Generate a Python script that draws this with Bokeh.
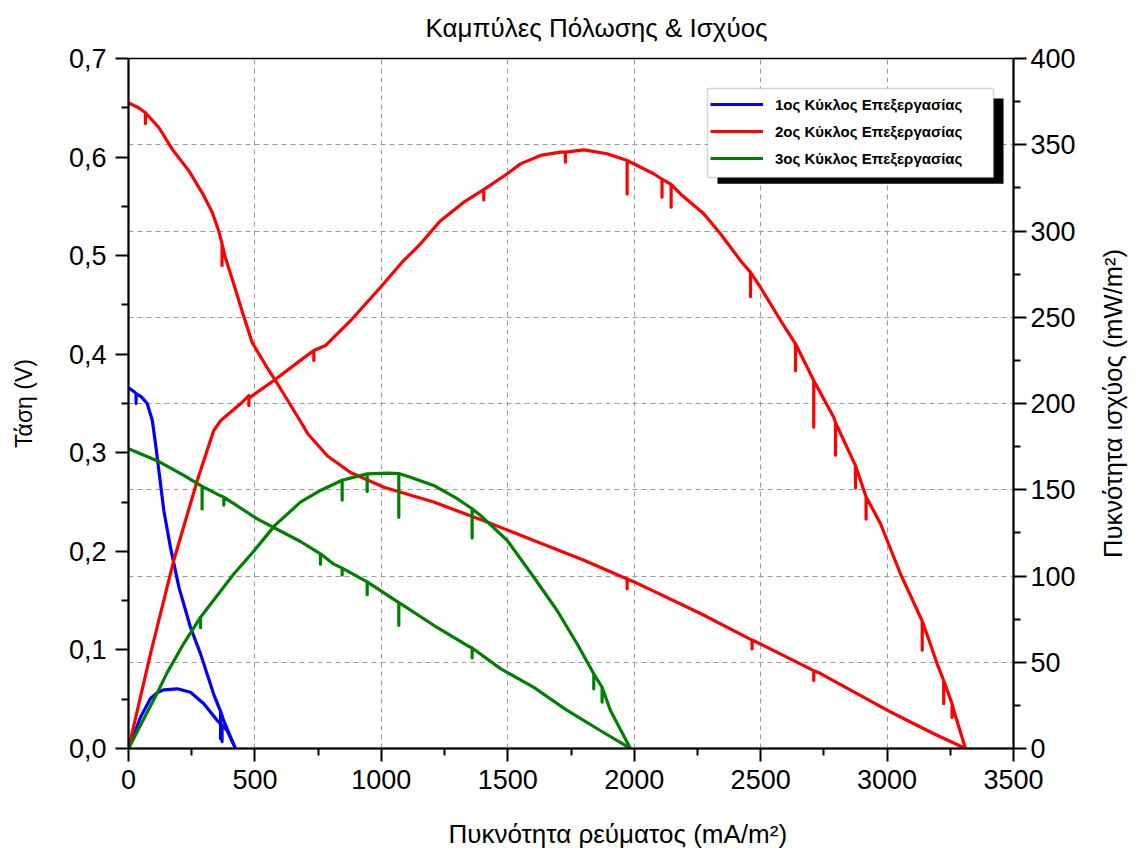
import math
from bokeh.plotting import figure
from bokeh.models import (Range1d, LinearAxis, Grid, Legend, LegendItem, BoxAnnotation,
                          CustomJSTickFormatter, FixedTicker, Label)
from bokeh.embed import file_html
from bokeh.resources import INLINE

# ---- polarization curves: current density (mA/m^2) vs cell voltage (V) ----
j_blue_v = [0, 22, 30, 30, 30, 50, 74, 94, 107, 120, 140, 166, 199, 245, 285, 337, 364, 364, 364, 377, 423]
v_blue = [0.366, 0.362, 0.360, 0.350, 0.360, 0.357, 0.350, 0.333, 0.309, 0.282, 0.241, 0.204, 0.164,
          0.123, 0.096, 0.055, 0.038, 0.010, 0.038, 0.028, 0.0]

j_red_v = [0, 40, 67, 67, 67, 120, 173, 239, 291, 331, 357, 370, 370, 370, 384, 410, 450, 489, 542, 594,
           674, 710, 786, 878, 1010, 1207, 1405, 1603, 1801, 1972, 1972, 1972, 2000, 2262, 2466, 2466, 2466,
           2499, 2710, 2710, 2710, 2737, 3000, 3053, 3185, 3310]
v_red = [0.655, 0.650, 0.645, 0.634, 0.645, 0.630, 0.608, 0.586, 0.564, 0.544, 0.525, 0.512, 0.490, 0.512,
         0.497, 0.4765, 0.443, 0.412, 0.389, 0.368, 0.3345, 0.319, 0.297, 0.280, 0.265, 0.250, 0.231, 0.211,
         0.191, 0.172, 0.162, 0.172, 0.169, 0.137, 0.110, 0.101, 0.110, 0.106, 0.079, 0.069, 0.079, 0.076,
         0.039, 0.032, 0.015, 0.0]

j_green_v = [0, 113, 219, 291, 291, 291, 351, 377, 377, 377, 509, 680, 759, 759, 759, 812, 845, 845, 845,
             944, 944, 944, 1069, 1069, 1069, 1076, 1207, 1339, 1359, 1359, 1359, 1471, 1603, 1735, 1867, 1985]
v_green = [0.304, 0.292, 0.277, 0.266, 0.243, 0.266, 0.258, 0.255, 0.247, 0.255, 0.233, 0.210, 0.1975, 0.187,
           0.1975, 0.187, 0.183, 0.176, 0.183, 0.169, 0.156, 0.169, 0.148, 0.125, 0.148, 0.147, 0.125, 0.1045,
           0.102, 0.092, 0.102, 0.081, 0.062, 0.0386, 0.018, 0.0]

# ---- power density curves: current density (mA/m^2) vs power density (mW/m^2) ----
j_blue_p = [0, 47, 87, 115, 140, 193, 245, 298, 351, 370, 370, 370, 390, 423]
p_blue = [0, 18.0, 29.0, 32.5, 34.0, 34.6, 32.6, 25.9, 16.2, 13.5, 4.0, 13.5, 10.4, 0]

j_red_p = [0, 87, 179, 272, 337, 364, 443, 476, 476, 476, 482, 575, 680, 733, 733, 733, 779, 885, 1003, 1082,
           1155, 1234, 1326, 1405, 1405, 1405, 1498, 1550, 1629, 1708, 1728, 1728, 1728, 1801, 1893,
           1972, 1972, 1972, 2077, 2110, 2110, 2110, 2146, 2146, 2146, 2183, 2275, 2341, 2420,
           2460, 2460, 2460, 2499, 2579, 2638, 2638, 2638, 2710, 2710, 2710, 2789, 2796, 2796, 2796,
           2875, 2875, 2875, 2917, 2917, 2917, 2974, 3053, 3132, 3139, 3139, 3139, 3198,
           3224, 3224, 3224, 3257, 3257, 3257, 3264, 3310]
p_red = [0, 54.9, 109, 155.4, 184.3, 190, 199.8, 204.6, 198.8, 204.6, 203.7, 213.3, 225, 230.7, 225, 230.7,
         233.6, 249.1, 268.4, 281.9, 292.6, 306, 316.7, 324, 318, 324, 333.2, 338.9, 343.8, 345.7,
         345.7, 339.9, 345.7, 347, 344.8, 340.9, 321.5, 340.9, 333.2, 330, 319.6, 330, 327, 313.8, 327,
         321.5, 310, 298.4, 282.9, 276, 262, 276, 267.4, 248.1, 234.6, 219, 234.6, 213.3, 186.3, 213.3,
         192, 189, 170, 189, 164, 151, 164, 146, 133, 146, 130.3, 101.3, 76.1, 74, 57, 74, 49.1,
         39.4, 26, 39.4, 26, 18, 26, 22, 0]

j_green_p = [0, 113, 153, 219, 285, 285, 285, 417, 496, 580, 680, 759, 845, 845, 845, 944, 944, 944, 1023,
             1069, 1069, 1069, 1115, 1207, 1300, 1359, 1359, 1359, 1392, 1498, 1603, 1695, 1774,
             1840, 1840, 1840, 1873, 1873, 1873, 1906, 1985]
p_green = [0, 32.0, 44.0, 61.0, 76.1, 70, 76.1, 101.3, 114.5, 129.5, 142.8, 149.6, 155.5, 144, 155.5,
           159.2, 149, 159.2, 159.6, 159.4, 134, 159.4, 157.3, 152.5, 144.8, 139, 122, 139, 135.1, 120.6,
           99.3, 80, 60.7, 43.3, 34.6, 43.3, 35.5, 26.8, 35.5, 22, 0]

series_names = ["1ος Κύκλος Επεξεργασίας", "2ος Κύκλος Επεξεργασίας", "3ος Κύκλος Επεξεργασίας"]
series_colors = ["#0000FF", "#FF0000", "#008000"]

x_ticks = [0, 500, 1000, 1500, 2000, 2500, 3000, 3500]
v_ticks = [0.0, 0.1, 0.2, 0.3, 0.4, 0.5, 0.6, 0.7]
p_ticks = [0, 50, 100, 150, 200, 250, 300, 350, 400]

FONT = "Liberation Sans"

p = figure(width=1137, height=848, output_backend="svg", toolbar_location=None,
           x_range=Range1d(0, 3500), y_range=Range1d(0, 0.7),
           min_border_left=128, min_border_right=124, min_border_top=58, min_border_bottom=100,
           background_fill_color="white", border_fill_color="white")
p.extra_y_ranges = {"power": Range1d(0, 400)}

p.outline_line_color = "black"
p.outline_line_width = 1.5
p.outline_line_alpha = 1


def halves(ticks):
    return [(a + b) / 2 for a, b in zip(ticks[:-1], ticks[1:])]


def style_axis(ax, ticks, font_size="27px"):
    ax.ticker = FixedTicker(ticks=ticks, minor_ticks=halves(ticks))
    ax.axis_line_width = 2
    ax.axis_line_color = "black"
    ax.major_tick_in = 0
    ax.major_tick_out = 13
    ax.minor_tick_in = 0
    ax.minor_tick_out = 7
    ax.major_tick_line_width = 2
    ax.minor_tick_line_width = 2
    ax.major_tick_line_color = "black"
    ax.minor_tick_line_color = "black"
    ax.major_label_text_font = FONT
    ax.major_label_text_font_size = font_size
    ax.major_label_text_color = "black"
    ax.axis_label_text_font = FONT
    ax.axis_label_text_font_style = "normal"
    ax.axis_label_text_color = "black"


# bottom axis
xax = p.xaxis[0]
style_axis(xax, x_ticks)
xax.major_label_standoff = 8

# left axis (voltage)
yax = p.yaxis[0]
style_axis(yax, v_ticks)
yax.formatter = CustomJSTickFormatter(code="return tick.toFixed(1).replace('.', ',');")
yax.major_label_standoff = 9
yax.axis_label = "Τάση (V)"
yax.axis_label_text_font_size = "23px"
yax.axis_label_standoff = 29

# right axis (power density)
rax = LinearAxis(y_range_name="power")
style_axis(rax, p_ticks)
rax.major_label_standoff = 4
p.add_layout(rax, "right")

# chart title, x-axis title and right-axis title as free text in the side panels
text_style = dict(text_font=FONT, text_color="black", text_baseline="middle")
p.add_layout(Label(x=0, y=0.7, x_offset=297, y_offset=31, text="Καμπύλες Πόλωσης & Ισχύος",
                   text_font_size="26px", text_align="left", **text_style), "above")
p.add_layout(Label(x=0, y=0, x_offset=320, y_offset=-85, text="Πυκνότητα ρεύματος (mA/m²)",
                   text_font_size="26px", text_align="left", **text_style), "below")
p.add_layout(Label(x=3500, y=200, y_range_name="power", x_offset=99, angle=math.pi / 2,
                   text="Πυκνότητα ισχύος (mW/m²)", text_font_size="25.5px", text_align="center",
                   **text_style), "right")

# grid: vertical from bottom axis, horizontal from the power axis
p.xgrid.grid_line_color = "#9a9a9a"
p.xgrid.grid_line_dash = "5 4"
p.xgrid.grid_line_width = 1
p.ygrid.visible = False
p.add_layout(Grid(dimension=1, ticker=rax.ticker, y_range_name="power",
                  grid_line_color="#9a9a9a", grid_line_dash="5 4", grid_line_width=1))

# curves
v_sets = [(j_blue_v, v_blue), (j_red_v, v_red), (j_green_v, v_green)]
p_sets = [(j_blue_p, p_blue), (j_red_p, p_red), (j_green_p, p_green)]
v_renderers = []
for (jx, vy), (jp, py), col in zip(v_sets, p_sets, series_colors):
    r = p.line(jx, vy, line_color=col, line_width=3.2, line_join="round")
    p.line(jp, py, line_color=col, line_width=3.2, line_join="round", y_range_name="power")
    v_renderers.append(r)

# legend frame with drop shadow
p.add_layout(BoxAnnotation(left=2329.4, right=3460.5, bottom=0.5730, top=0.6594,
                           fill_color="black", fill_alpha=1, line_alpha=0))
p.add_layout(BoxAnnotation(left=2289.8, right=3420.9, bottom=0.5793, top=0.6696,
                           fill_color="white", fill_alpha=1, line_color="#7a7a7a", line_width=1.5))

legend = Legend(items=[LegendItem(label=n, renderers=[r]) for n, r in zip(series_names, v_renderers)],
                location=(574, 572), orientation="vertical",
                background_fill_alpha=0, border_line_alpha=0,
                glyph_width=53, glyph_height=20, label_height=20, label_standoff=12,
                spacing=7, padding=8, margin=0,
                label_text_font=FONT, label_text_font_size="15px", label_text_font_style="bold",
                label_text_color="black")
p.add_layout(legend, "center")

open("out.html", "w").write(file_html(p, INLINE))
